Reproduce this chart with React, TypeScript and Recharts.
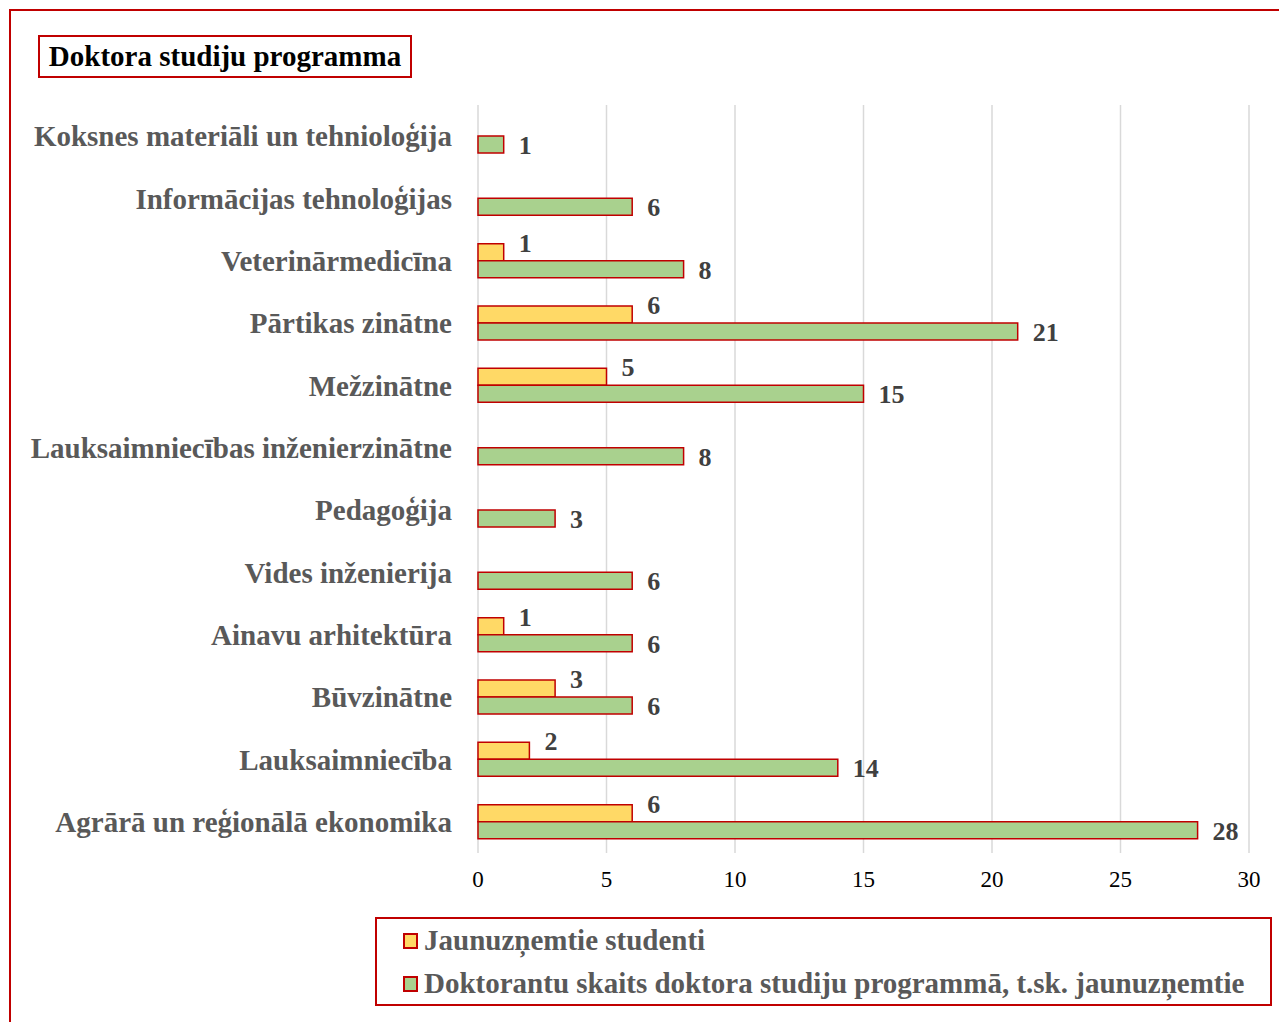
import React from 'react';
import { BarChart, Bar, XAxis, YAxis, CartesianGrid, LabelList } from 'recharts';

const categories = [
  'Koksnes materiāli un tehnioloģija',
  'Informācijas tehnoloģijas',
  'Veterinārmedicīna',
  'Pārtikas zinātne',
  'Mežzinātne',
  'Lauksaimniecības inženierzinātne',
  'Pedagoģija',
  'Vides inženierija',
  'Ainavu arhitektūra',
  'Būvzinātne',
  'Lauksaimniecība',
  'Agrārā un reģionālā ekonomika',
];
const newStudents: (number | null)[] = [null, null, 1, 6, 5, null, null, null, 1, 3, 2, 6];
const totalStudents = [1, 6, 8, 21, 15, 8, 3, 6, 6, 6, 14, 28];
const xTicks = [0, 5, 10, 15, 20, 25, 30];

const seriesNames = {
  newStudents: 'Jaunuzņemtie studenti',
  total: 'Doktorantu skaits doktora studiju programmā, t.sk. jaunuzņemtie',
};

const data = categories.map((name, i) => ({
  name,
  newStudents: newStudents[i],
  total: totalStudents[i],
}));

const FONT = '"Liberation Serif", "Times New Roman", serif';
const RED = '#C00000';
const YELLOW = '#FFD966';
const GREEN = '#A9D18E';

const makeLabel = (dy: number) => (props: any) => {
  const { x, y, width, height, value } = props;
  if (value == null) return null;
  return (
    <text
      x={x + width + 15}
      y={y + height / 2 + dy}
      dominantBaseline="central"
      fontFamily={FONT}
      fontWeight="bold"
      fontSize={26}
      fill="#404040"
    >
      {value}
    </text>
  );
};

const LegendItem = ({ color, label }: { color: string; label: string }) => (
  <div style={{ display: 'flex', alignItems: 'center', height: 43 }}>
    <span
      style={{
        display: 'inline-block',
        width: 11,
        height: 12,
        background: color,
        border: `2px solid ${RED}`,
        marginRight: 6,
      }}
    />
    <span>{label}</span>
  </div>
);

export default function App() {
  return (
    <div
      style={{
        position: 'absolute',
        left: 0,
        top: 0,
        width: 1279,
        height: 1022,
        overflow: 'hidden',
        background: '#fff',
        fontFamily: FONT,
      }}
    >
      <div
        style={{
          position: 'absolute',
          left: 9,
          top: 9,
          width: 1400,
          height: 1200,
          border: `2px solid ${RED}`,
        }}
      />
      <BarChart
        width={1279}
        height={1022}
        data={data}
        layout="vertical"
        margin={{ top: 105, right: 30, bottom: 129, left: 8 }}
        barSize={17}
        barGap={0}
        style={{ position: 'absolute', left: 0, top: 0 }}
      >
        <CartesianGrid horizontal={false} stroke="#D9D9D9" strokeWidth={1.5} />
        <XAxis
          type="number"
          domain={[0, 30]}
          ticks={xTicks}
          axisLine={false}
          tickLine={false}
          height={40}
          tickMargin={12}
          tick={{ fontFamily: FONT, fontSize: 23, fill: '#000' }}
          interval={0}
        />
        <YAxis
          type="category"
          dataKey="name"
          width={470}
          axisLine={false}
          tickLine={false}
          tickMargin={20}
          interval={0}
          tick={{ fontFamily: FONT, fontSize: 29, fontWeight: 'bold', fill: '#595959' }}
        />
        <Bar dataKey="newStudents" fill={YELLOW} stroke={RED} strokeWidth={1.5} isAnimationActive={false}>
          <LabelList dataKey="newStudents" content={makeLabel(-9)} />
        </Bar>
        <Bar dataKey="total" fill={GREEN} stroke={RED} strokeWidth={1.5} isAnimationActive={false}>
          <LabelList dataKey="total" content={makeLabel(1)} />
        </Bar>
      </BarChart>
      <div
        style={{
          position: 'absolute',
          left: 38,
          top: 35,
          width: 374,
          height: 43,
          border: `2px solid ${RED}`,
          boxSizing: 'border-box',
          display: 'flex',
          alignItems: 'center',
          justifyContent: 'center',
          fontWeight: 'bold',
          fontSize: 29,
          color: '#000',
        }}
      >
        Doktora studiju programma
      </div>
      <div
        style={{
          position: 'absolute',
          left: 375,
          top: 917,
          width: 897,
          height: 89,
          border: `2px solid ${RED}`,
          boxSizing: 'border-box',
          padding: '0 0 0 26px',
          fontWeight: 'bold',
          fontSize: 29,
          color: '#595959',
        }}
      >
        <LegendItem color={YELLOW} label={seriesNames.newStudents} />
        <LegendItem color={GREEN} label={seriesNames.total} />
      </div>
    </div>
  );
}
